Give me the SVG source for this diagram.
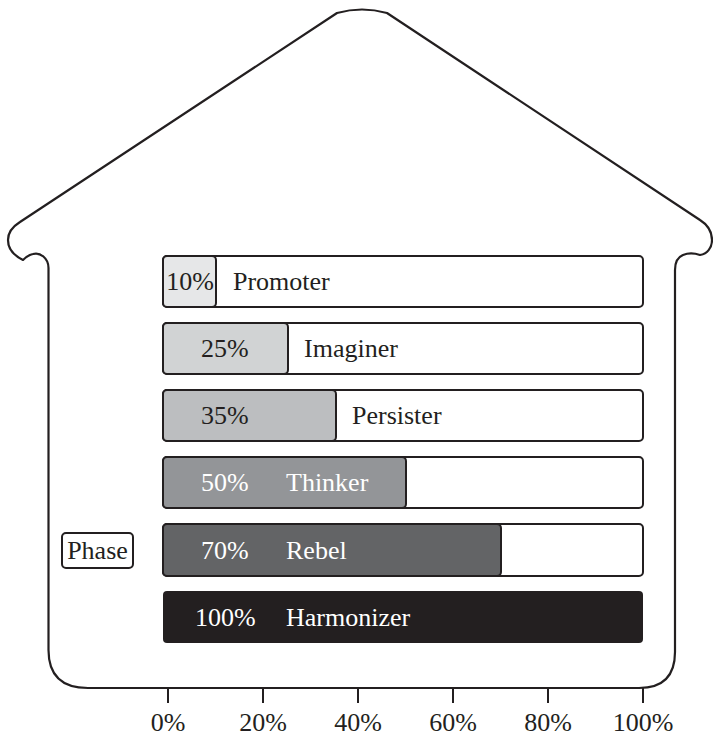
<svg xmlns="http://www.w3.org/2000/svg" width="713" height="738" viewBox="0 0 713 738">
  <style>
    .outline { fill: none; stroke: #231f20; stroke-width: 2.2; stroke-linejoin: round; }
    .track { fill: #ffffff; stroke: #231f20; stroke-width: 2; }
    .fill { stroke: #231f20; stroke-width: 2; }
    .lbl { font-family: "Liberation Serif", "Times New Roman", serif; font-size: 26px; fill: #231f20; }
    .inv { fill: #ffffff; }
    .tick { stroke: #231f20; stroke-width: 2; }
    .axis { font-family: "Liberation Serif", "Times New Roman", serif; font-size: 26px; fill: #231f20; text-anchor: middle; }
  </style>

  <!-- house outline: walls, eaves, roof and floor line -->
  <path id="house" class="outline" d="M 48.5,650 L 48.5,268
    C 48.5,258 40,252 33,254 C 28,255 25,258 23,260
    C 15,256 8,250 8,240 C 8,232 12,227 20,222
    L 337,13 Q 362,6 387,13
    L 700,220
    C 708,225 712,232 712,240 C 712,248 707,254 700,255
    C 694,253 688,253 683,255 C 678,257 675,262 675,270
    L 675,652 Q 675,688 639,688
    L 88,688 Q 48.5,688 48.5,650 Z"/>

  <!-- phase scale bars -->
  <g id="bar-promoter">
    <rect class="track" x="163" y="256" width="480" height="51" rx="4"/>
    <rect class="fill" x="163" y="256" width="53" height="51" rx="4" fill="#e6e7e8"/>
    <text class="lbl" x="190" y="290" text-anchor="middle">10%</text>
    <text class="lbl" x="233" y="290">Promoter</text>
  </g>
  <g id="bar-imaginer">
    <rect class="track" x="163" y="323" width="480" height="51" rx="4"/>
    <rect class="fill" x="163" y="323" width="125" height="51" rx="4" fill="#d1d3d4"/>
    <text class="lbl" x="201" y="357">25%</text>
    <text class="lbl" x="304" y="357">Imaginer</text>
  </g>
  <g id="bar-persister">
    <rect class="track" x="163" y="390" width="480" height="51" rx="4"/>
    <rect class="fill" x="163" y="390" width="173" height="51" rx="4" fill="#bcbec0"/>
    <text class="lbl" x="201" y="424">35%</text>
    <text class="lbl" x="352" y="424">Persister</text>
  </g>
  <g id="bar-thinker">
    <rect class="track" x="163" y="457" width="480" height="51" rx="4"/>
    <rect class="fill" x="163" y="457" width="243" height="51" rx="4" fill="#939598"/>
    <text class="lbl inv" x="201" y="491">50%</text>
    <text class="lbl inv" x="286" y="491">Thinker</text>
  </g>
  <g id="bar-rebel">
    <rect class="track" x="163" y="524" width="480" height="52" rx="4"/>
    <rect class="fill" x="163" y="524" width="338" height="52" rx="4" fill="#636466"/>
    <text class="lbl inv" x="201" y="559">70%</text>
    <text class="lbl inv" x="286" y="559">Rebel</text>
  </g>
  <g id="bar-harmonizer">
    <rect x="163" y="591" width="480" height="52" rx="4" fill="#231f20"/>
    <text class="lbl inv" x="195" y="626">100%</text>
    <text class="lbl inv" x="286" y="626">Harmonizer</text>
  </g>

  <!-- side label -->
  <g id="phase-label">
    <rect x="62" y="533" width="71" height="35" rx="4" fill="#ffffff" stroke="#231f20" stroke-width="2"/>
    <text class="lbl" x="97.5" y="559" text-anchor="middle">Phase</text>
  </g>

  <!-- percentage axis -->
  <g id="axis">
    <line class="tick" x1="168" y1="688" x2="168" y2="703"/>
    <line class="tick" x1="263" y1="688" x2="263" y2="703"/>
    <line class="tick" x1="358" y1="688" x2="358" y2="703"/>
    <line class="tick" x1="453" y1="688" x2="453" y2="703"/>
    <line class="tick" x1="548" y1="688" x2="548" y2="703"/>
    <line class="tick" x1="643" y1="688" x2="643" y2="703"/>
    <text class="axis" x="168" y="731">0%</text>
    <text class="axis" x="263" y="731">20%</text>
    <text class="axis" x="358" y="731">40%</text>
    <text class="axis" x="453" y="731">60%</text>
    <text class="axis" x="548" y="731">80%</text>
    <text class="axis" x="643" y="731">100%</text>
  </g>
</svg>
